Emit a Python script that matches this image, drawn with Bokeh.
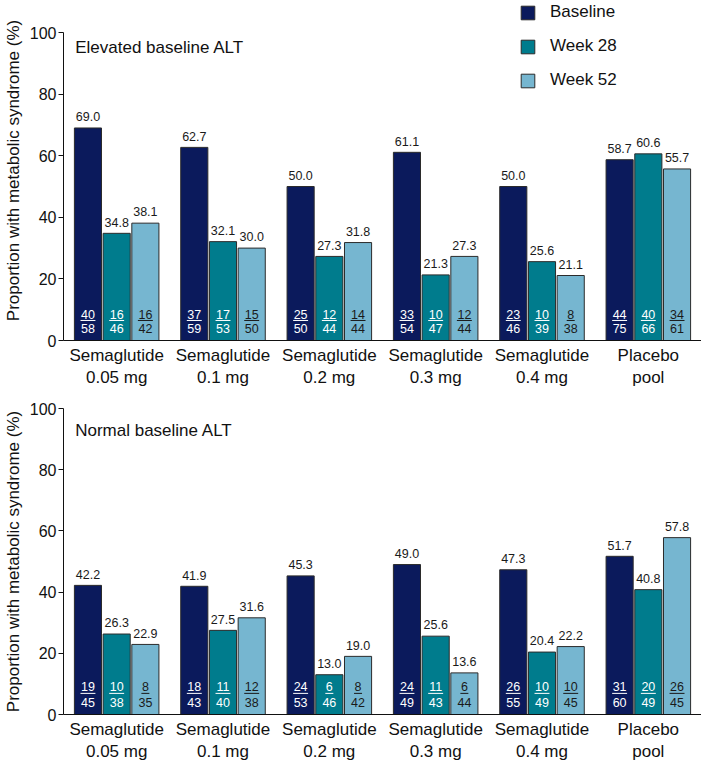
from bokeh.plotting import figure
from bokeh.models import ColumnDataSource, Range1d, FixedTicker, Legend, LegendItem, Label
from bokeh.layouts import column
from bokeh.embed import file_html
from bokeh.resources import INLINE
from bokeh.core.properties import value

# ---------------- data ----------------
groups = ["Semaglutide\n0.05 mg", "Semaglutide\n0.1 mg", "Semaglutide\n0.2 mg",
          "Semaglutide\n0.3 mg", "Semaglutide\n0.4 mg", "Placebo\npool"]
series = ["Baseline", "Week 28", "Week 52"]

elev_baseline = [69.0, 62.7, 50.0, 61.1, 50.0, 58.7]
elev_week28 = [34.8, 32.1, 27.3, 21.3, 25.6, 60.6]
elev_week52 = [38.1, 30.0, 31.8, 27.3, 21.1, 55.7]
elev_baseline_n = [40, 37, 25, 33, 23, 44]
elev_baseline_N = [58, 59, 50, 54, 46, 75]
elev_week28_n = [16, 17, 12, 10, 10, 40]
elev_week28_N = [46, 53, 44, 47, 39, 66]
elev_week52_n = [16, 15, 14, 12, 8, 34]
elev_week52_N = [42, 50, 44, 44, 38, 61]

norm_baseline = [42.2, 41.9, 45.3, 49.0, 47.3, 51.7]
norm_week28 = [26.3, 27.5, 13.0, 25.6, 20.4, 40.8]
norm_week52 = [22.9, 31.6, 19.0, 13.6, 22.2, 57.8]
norm_baseline_n = [19, 18, 24, 24, 26, 31]
norm_baseline_N = [45, 43, 53, 49, 55, 60]
norm_week28_n = [10, 11, 6, 11, 10, 20]
norm_week28_N = [38, 40, 46, 43, 49, 49]
norm_week52_n = [8, 12, 8, 6, 10, 26]
norm_week52_N = [35, 38, 42, 44, 45, 45]

y_ticks = [0, 20, 40, 60, 80, 100]

# ---------------- style ----------------
FONT = "Liberation Sans"
bar_colors = ["#0b1a5c", "#007c8d", "#76b6d0"]
frac_colors = ["white", "white", "#1a1a1a"]
offsets = [-0.27, 0.0, 0.27]
BAR_W = 0.255
LEFT = 62
FRAME_W = 701 - LEFT
PX_PER_UNIT = FRAME_W / 6.0
DIGIT_PX = 0.556 * 12.5


def make_panel(title, vals, ns, Ns, height, b_top, b_bottom, y_end, title_y,
               num_y, den_y, line_y, legend=False):
    p = figure(width=701, height=height, output_backend="svg", toolbar_location=None,
               x_range=Range1d(-0.5, 5.5), y_range=Range1d(0, y_end),
               min_border_left=LEFT, min_border_right=0,
               min_border_top=b_top, min_border_bottom=b_bottom)
    p.xgrid.visible = False
    p.ygrid.visible = False
    p.outline_line_color = None
    p.background_fill_color = "white"
    p.border_fill_color = "white"

    renderers = []
    for k in range(3):
        xs = [i + offsets[k] for i in range(len(groups))]
        src = ColumnDataSource(dict(x=xs, top=vals[k],
                                    lab=["%.1f" % v for v in vals[k]],
                                    ly=[v + 2.2 for v in vals[k]]))
        r = p.vbar(x="x", top="top", bottom=0, width=BAR_W, source=src,
                   fill_color=bar_colors[k], line_color="#2b2b2b", line_width=1)
        renderers.append(r)
        p.text(x="x", y="ly", text="lab", source=src, text_align="center",
               text_baseline="bottom", text_font=value(FONT),
               text_font_size="12.5px", text_color="#1a1a1a")
        # fraction n / N
        hw = [len(str(n)) * DIGIT_PX / 2.0 / PX_PER_UNIT + 0.005 for n in ns[k]]
        fsrc = ColumnDataSource(dict(
            x=xs, n=[str(n) for n in ns[k]], N=[str(N) for N in Ns[k]],
            x0=[x - h for x, h in zip(xs, hw)], x1=[x + h for x, h in zip(xs, hw)]))
        p.text(x="x", y=num_y, text="n", source=fsrc, text_align="center",
               text_baseline="middle", text_font=value(FONT),
               text_font_size="12.5px", text_color=frac_colors[k])
        p.text(x="x", y=den_y, text="N", source=fsrc, text_align="center",
               text_baseline="middle", text_font=value(FONT),
               text_font_size="12.5px", text_color=frac_colors[k])
        p.segment(x0="x0", x1="x1", y0=line_y, y1=line_y, source=fsrc,
                  line_color=frac_colors[k], line_width=1)

    p.add_layout(Label(x=-0.39, y=title_y, text=title, text_baseline="middle",
                       text_font=FONT, text_font_size="17px", text_color="#111111"))

    # axes
    p.yaxis.ticker = FixedTicker(ticks=y_ticks)
    p.yaxis.bounds = (0, 100)
    p.yaxis.minor_tick_line_color = None
    p.yaxis.major_tick_out = 5
    p.yaxis.major_tick_in = 0
    p.yaxis.major_label_standoff = 2
    p.yaxis.major_label_text_font = FONT
    p.yaxis.major_label_text_font_size = "16px"
    p.yaxis.major_label_text_color = "#111111"
    p.yaxis.axis_label = "Proportion with metabolic syndrome (%)"
    p.yaxis.axis_label_text_font = FONT
    p.yaxis.axis_label_text_font_size = "17px"
    p.yaxis.axis_label_text_font_style = "normal"
    p.yaxis.axis_label_text_color = "#111111"
    p.yaxis.axis_label_standoff = 4
    p.yaxis.axis_line_color = "#111111"
    p.yaxis.major_tick_line_color = "#111111"

    p.xaxis.ticker = FixedTicker(ticks=list(range(len(groups))))
    p.xaxis.major_label_overrides = {i: g for i, g in enumerate(groups)}
    p.xaxis.minor_tick_line_color = None
    p.xaxis.major_tick_line_color = None
    p.xaxis.major_tick_out = 0
    p.xaxis.major_tick_in = 0
    p.xaxis.major_label_standoff = 5
    p.xaxis.major_label_text_font = FONT
    p.xaxis.major_label_text_font_size = "17px"
    p.xaxis.major_label_text_color = "#111111"
    p.xaxis.axis_line_color = "#111111"

    if legend:
        items = [LegendItem(label=s, renderers=[r]) for s, r in zip(series, renderers)]
        lg = Legend(items=items, location=(456, 250), orientation="vertical",
                    glyph_width=17, glyph_height=17, label_height=17,
                    label_standoff=14, spacing=14, padding=0, margin=0,
                    border_line_color=None, background_fill_alpha=0,
                    label_text_font=FONT, label_text_font_size="17px",
                    label_text_color="#111111")
        p.add_layout(lg, "center")
    return p


top = make_panel("Elevated baseline ALT",
                 [elev_baseline, elev_week28, elev_week52],
                 [elev_baseline_n, elev_week28_n, elev_week52_n],
                 [elev_baseline_N, elev_week28_N, elev_week52_N],
                 height=390, b_top=0, b_bottom=50, y_end=110.39, title_y=95.1,
                 num_y=8.4, den_y=3.9, line_y=6.5, legend=True)
bottom = make_panel("Normal baseline ALT",
                    [norm_baseline, norm_week28, norm_week52],
                    [norm_baseline_n, norm_week28_n, norm_week52_n],
                    [norm_baseline_N, norm_week28_N, norm_week52_N],
                    height=374, b_top=18, b_bottom=50, y_end=100, title_y=92.8,
                    num_y=9.1, den_y=3.9, line_y=6.9)

layout = column(top, bottom, spacing=0)
open("out.html", "w").write(file_html(layout, INLINE))
